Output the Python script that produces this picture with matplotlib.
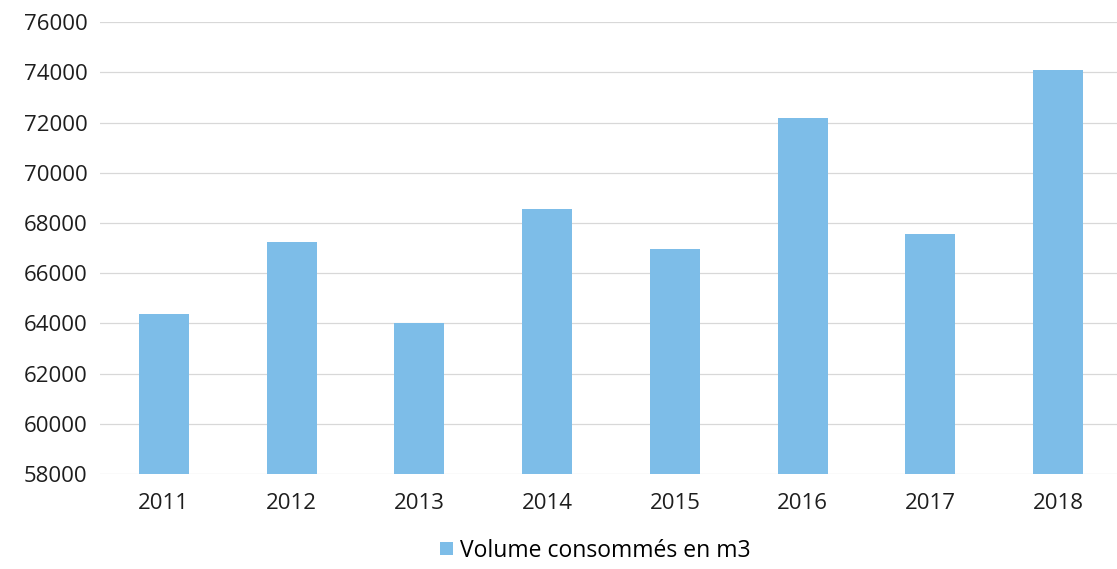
import matplotlib.pyplot as plt

# data
years = ["2011", "2012", "2013", "2014", "2015", "2016", "2017", "2018"]
volumes = [64380, 67250, 64000, 68550, 66950, 72180, 67560, 74100]
y_ticks = [58000, 60000, 62000, 64000, 66000, 68000, 70000, 72000, 74000, 76000]
series_name = "Volume consommés en m3"

plt.rcParams['font.family'] = ['Open Sans', 'DejaVu Sans']

fig = plt.figure(figsize=(11.17, 5.69), dpi=100)
ax = fig.add_axes([0.0895, 0.167, 0.915, 0.794])

x = range(len(years))
ax.bar(x, volumes, width=0.39, color='#7dbde8', label=series_name, zorder=2)

ax.set_ylim(58000, 76000)
ax.set_yticks(y_ticks)
ax.set_xlim(-0.5, len(years) - 0.5)
ax.set_xticks(list(x))
ax.set_xticklabels(years)
ax.tick_params(axis='both', length=0, labelsize=16, colors='#1e1e1e')
ax.tick_params(axis='x', pad=14)
ax.tick_params(axis='y', pad=9)

ax.yaxis.grid(True, color='#d8d8d8', linewidth=0.9, zorder=0)
for side in ['top', 'right', 'left', 'bottom']:
    ax.spines[side].set_visible(False)

fig.legend(loc='lower center', bbox_to_anchor=(0.533, -0.025), frameon=False,
           fontsize=16.5, handlelength=0.55, handleheight=0.55, handletextpad=0.3)

plt.savefig("out.png", dpi=100)
plt.close()
